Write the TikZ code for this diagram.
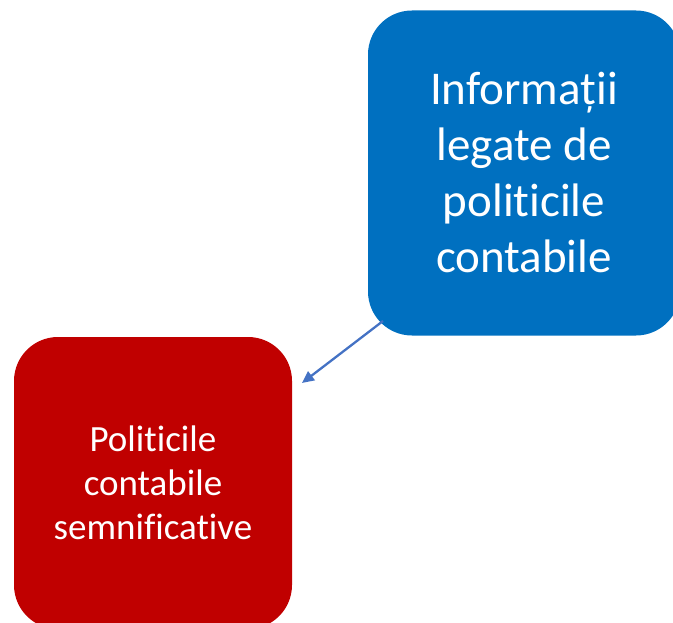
\documentclass[tikz,border=0pt]{standalone}
\usepackage{fontspec}
\setmainfont{Carlito}[Ligatures={NoCommon}]
\usetikzlibrary{arrows.meta}
\definecolor{boxblue}{HTML}{0070C0}
\definecolor{boxred}{HTML}{C00000}
\definecolor{arrowblue}{HTML}{4472C4}
\tikzset{
  roundbox/.style={rounded corners=44pt, inner sep=0pt, align=center, text=white},
  link/.style={draw=arrowblue, line width=2.3pt, -{Triangle[length=12pt,width=11pt]}}
}
\begin{document}
\begin{tikzpicture}[x=1pt,y=1pt]
\useasboundingbox (0,0) rectangle (673,-623);
\clip (0,0) rectangle (673,-623);
\node[roundbox, fill=boxblue, minimum width=312pt, minimum height=325pt,
  font=\fontsize{47}{56}\selectfont] (info) at (524,-173)
  {Informații\\legate de\\politicile\\contabile};
\node[roundbox, fill=boxred, minimum width=278pt, minimum height=292pt,
  font=\fontsize{37}{44}\selectfont] (pol) at (153,-483)
  {Politicile\\contabile\\semnificative};
\coordinate (start) at (383,-321);
\coordinate (tip) at (302,-383);
\draw[link] (start) -- (tip);
\end{tikzpicture}
\end{document}
